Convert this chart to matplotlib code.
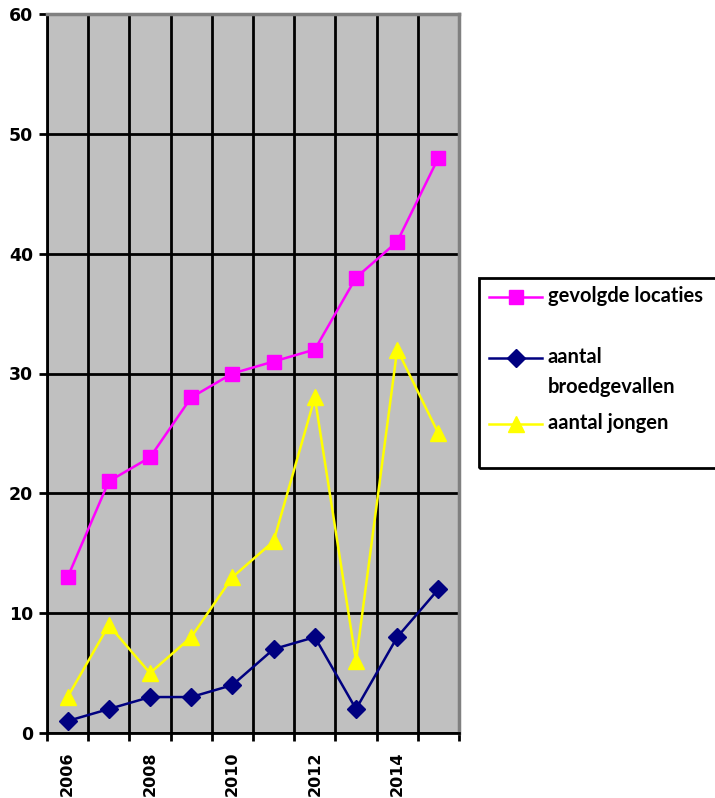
import matplotlib.pyplot as plt
from matplotlib.lines import Line2D
from matplotlib.patches import Rectangle
from matplotlib.ticker import FixedLocator

years = [2006, 2007, 2008, 2009, 2010, 2011, 2012, 2013, 2014, 2015]
gevolgde_locaties = [13, 21, 23, 28, 30, 31, 32, 38, 41, 48]
broedgevallen = [1, 2, 3, 3, 4, 7, 8, 2, 8, 12]
jongen = [3, 9, 5, 8, 13, 16, 28, 6, 32, 25]
y_ticks = [0, 10, 20, 30, 40, 50, 60]
legend_labels = ['gevolgde locaties', 'aantal\nbroedgevallen', 'aantal jongen']

W, H = 715, 798
fig = plt.figure(figsize=(W / 100, H / 100), dpi=100)
ax = fig.add_axes([47 / W, (H - 733) / H, 412 / W, 719 / H])
ax.set_facecolor('#C0C0C0')

x = list(range(len(years)))
series = [
    (gevolgde_locaties, '#FF00FF', 's', 10.5),
    (broedgevallen, '#000080', 'D', 9),
    (jongen, '#FFFF00', '^', 11.5),
]
for vals, col, mk, ms in series:
    ax.plot(x, vals, color=col, lw=1.8, marker=mk, ms=ms,
            markeredgecolor=col, zorder=3, clip_on=False)

ax.set_xlim(-0.5, len(years) - 0.5)
ax.set_ylim(0, 60)
ax.set_yticks(y_ticks)
ax.xaxis.set_major_locator(FixedLocator(x[::2]))
ax.set_xticklabels([str(y) for y in years[::2]], rotation=90,
                   fontsize=11.5, fontweight='bold')
ax.xaxis.set_minor_locator(FixedLocator([i - 0.5 for i in range(len(years) + 1)]))
ax.tick_params(axis='x', which='major', length=0, pad=13)
ax.tick_params(axis='x', which='minor', length=6, width=2, direction='out')
ax.tick_params(axis='y', length=6, width=2, direction='out', pad=4,
               labelsize=12.5)
for lbl in ax.get_yticklabels():
    lbl.set_fontweight('bold')

ax.grid(True, axis='y', which='major', color='black', lw=2)
ax.grid(True, axis='x', which='minor', color='black', lw=2)
ax.set_axisbelow(True)

for s in ['left', 'bottom']:
    ax.spines[s].set_color('black')
    ax.spines[s].set_linewidth(2)
for s in ['top', 'right']:
    ax.spines[s].set_color('#808080')
    ax.spines[s].set_linewidth(2.5)

# legend box, drawn by hand like the Excel one (runs off the right edge)
fig.add_artist(Rectangle((479 / W, (H - 468) / H), 300 / W, 190 / H,
                         transform=fig.transFigure, fill=False,
                         edgecolor='black', lw=2))
rows = [297, 358, 424]
for (vals, col, mk, ms), lab, yy in zip(series, legend_labels, rows):
    yf = (H - yy) / H
    fig.add_artist(Line2D([489 / W, 542 / W], [yf, yf], color=col, lw=1.8,
                          transform=fig.transFigure))
    fig.add_artist(Line2D([515.5 / W], [yf], color=col, marker=mk, ms=ms,
                          markeredgecolor=col, transform=fig.transFigure))
    fig.text(548 / W, yf + 11 / H, lab, family='Lato', fontweight='bold',
             fontsize=14.5, va='top', ha='left', linespacing=1.6)

fig.savefig('out.png', dpi=100)
